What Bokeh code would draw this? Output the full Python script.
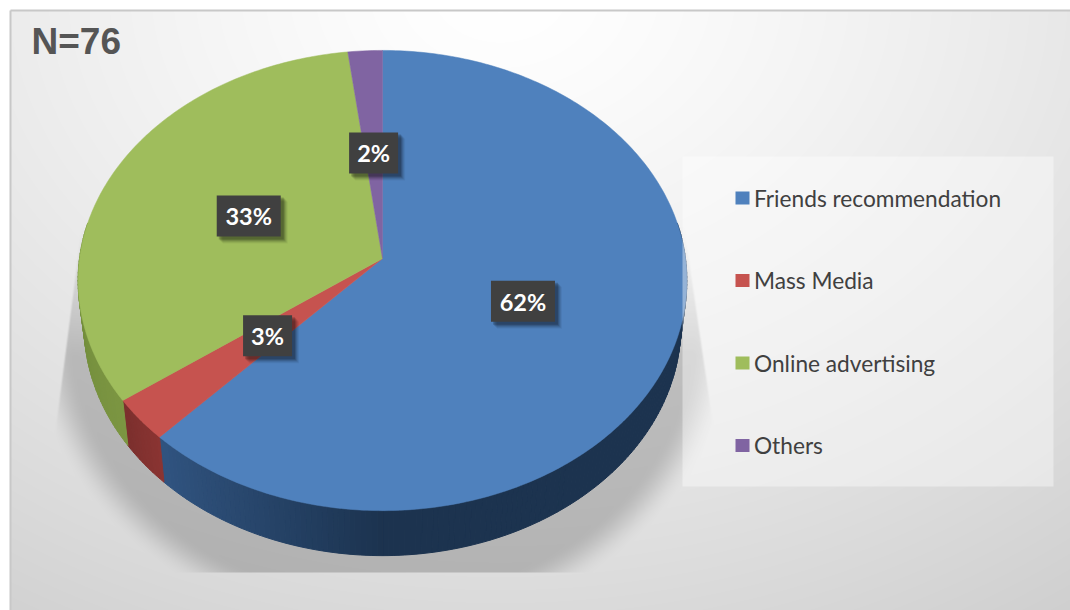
import numpy as np
from bokeh.plotting import figure
from bokeh.models import Range1d
from bokeh.core.properties import value
from bokeh.embed import file_html
from bokeh.resources import INLINE

categories = ["Friends recommendation", "Mass Media", "Online advertising", "Others"]
percent = [62, 3, 33, 2]
colors = ["#4F81BD", "#C6534F", "#9FBD5C", "#8064A2"]
side_left = ["#30537F", "#8A3432", "#7C9642", "#5F4A7A"]
side_right = ["#1C334F", "#7C2F2D", "#6F8A3A", "#5F4A7A"]
title = "N=76"

W, H = 1070, 610

CX, AY, BX, AYS, K, DEPTH, BX2 = 382.0, 258.0, 303.0, 228.0, 0.0957, 45.0, 297.0


def rim(theta, frac=1.0, bx=BX, dy=0.0):
    """Perspective projection of a disc point; theta clockwise from north."""
    u, v = np.sin(theta) * frac, np.cos(theta) * frac
    w = 1 + K * v
    return CX + bx * u / w, AY + dy - AYS * v / w


p = figure(width=W, height=H, output_backend="svg", toolbar_location=None,
           x_range=Range1d(0, W), y_range=Range1d(H, 0),
           min_border=0, outline_line_color=None, background_fill_color="white",
           border_fill_color="white")
p.axis.visible = False
p.grid.visible = False

# background: radial gradient and perspective shadow, computed per pixel
xs = np.arange(10, W) + 0.5
ys = np.arange(10, H) + 0.5
gx, gy = np.meshgrid(xs, ys)
t = np.sqrt(((gx - 500) / 650) ** 2 + ((gy + 10) / 500) ** 2)
bg = 255 - 28 * t ** 1.3
d = np.sqrt(((gx - CX) / 310) ** 2 + ((gy - 325) / 270) ** 2)
s = np.clip((1.14 - d) / 0.14, 0, 1)
s = s * s * (3 - 2 * s)
s *= np.clip((gy - 225) / 130, 0, 1)
s *= gy < 572
# the shadow's slanted outer edges on both sides of the pie
left_edge = 80 - (gy - 230) * 22 / 170
right_edge = 685 + (gy - 230) * 25 / 170
s *= np.clip((gx - left_edge) / 2, 0, 1) * np.clip((right_edge - gx) / 2, 0, 1)
shade = bg * (1 - 0.19 * s)
g = shade.round().astype(np.uint32)
img = (255 << 24) | (g << 16) | (g << 8) | g
p.image_rgba(image=[img], x=10, y=10, dw=len(xs), dh=len(ys))

# frame
p.line([10, 10], [H, 10], line_color="#C8C8C8", line_width=2)
p.line([10, W], [10, 10], line_color="#C8C8C8", line_width=2)

# slice boundaries in radians from the percentages
edges = np.concatenate([[0], np.cumsum(percent)]) / sum(percent) * 2 * np.pi


def hex2rgb(c):
    return np.array([int(c[i:i + 2], 16) for i in (1, 3, 5)], float)


# side wall as many thin quads, shaded along the arc
for i in range(len(percent)):
    a0, a1 = edges[i], edges[i + 1]
    if a0 > 3 * np.pi / 2:
        continue
    a1 = min(a1, 1.55 * np.pi)
    a0 = max(a0, np.pi * 0.45)
    if a1 <= a0:
        continue
    n = max(4, int((a1 - a0) * 60))
    th = np.linspace(a0, a1, n + 1)
    x1, y1 = rim(th)
    x2, y2 = rim(th, bx=BX2, dy=DEPTH)
    cl, cr = hex2rgb(side_left[i]), hex2rgb(side_right[i])
    qx, qy, qc = [], [], []
    for j in range(n):
        qx.append([x1[j], x1[j + 1], x2[j + 1], x2[j]])
        qy.append([y1[j], y1[j + 1], y2[j + 1], y2[j]])
        xm = (x1[j] + x1[j + 1]) / 2
        f = np.clip((xm - 165) / (383 - 165), 0, 1) if i == 0 else (j / max(n - 1, 1))
        col = cl + (cr - cl) * f
        qc.append("#%02x%02x%02x" % tuple(int(c) for c in col))
    p.patches(qx, qy, fill_color=qc, line_color=qc, line_width=1)

# top face
for i in range(len(percent)):
    th = np.linspace(edges[i], edges[i + 1], max(3, int(percent[i] * 4)))
    rx, ry = rim(th)
    p.patch(np.r_[CX, rx], np.r_[AY, ry], fill_color=colors[i], line_color=colors[i], line_width=0.5)

# legend panel (translucent, overlaps the pie's right edge)
p.quad(left=682, right=1053, top=156, bottom=486, fill_color="white", fill_alpha=0.4, line_color=None)
leg_y0, leg_dy = 197.5, 82.5
for i, name in enumerate(categories):
    yy = leg_y0 + i * leg_dy
    p.quad(left=735, right=749, top=yy - 6.5, bottom=yy + 6.5, fill_color=colors[i], line_color=None)
    p.text([753.5], [yy], text=[name], text_font=value("Lato"), text_font_size="22.7px",
           text_color="#404040", text_baseline="middle", text_align="left")

# data labels, placed on the mid-angle of each slice
for i, pc in enumerate(percent):
    mid = (edges[i] + edges[i + 1]) / 2
    lx, ly = rim(mid, frac=0.49)
    ly = ly + 1
    hw = 32 if pc >= 10 else 24.5
    hh = 20.5
    for off, al in ((7, 0.05), (6, 0.08), (5, 0.1), (4, 0.14), (3, 0.18)):
        p.quad(left=lx - hw + off - 1, right=lx + hw + off, top=ly - hh + off - 1, bottom=ly + hh + off,
               fill_color="black", fill_alpha=al, line_color=None)
    p.quad(left=lx - hw, right=lx + hw, top=ly - hh, bottom=ly + hh, fill_color="#404040", line_color=None)
    p.text([lx], [ly + 0.5], text=[f"{pc}%"], text_font=value("Lato"), text_font_size="23.5px",
           text_font_style="bold", text_color="white", text_align="center", text_baseline="middle")

p.text([31], [41], text=[title], text_font=value("Liberation Sans"), text_font_size="37px",
       text_font_style="bold", text_color="#555555", text_baseline="middle", text_align="left")

open("out.html", "w").write(file_html(p, INLINE))
